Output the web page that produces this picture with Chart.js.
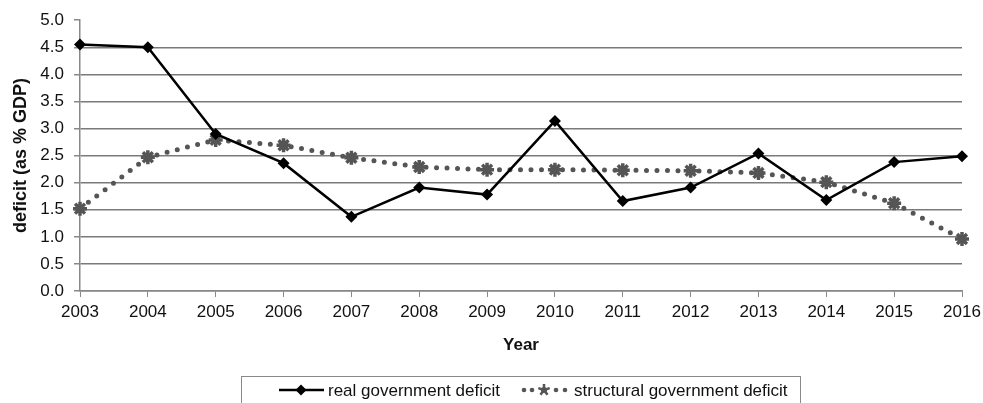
<!DOCTYPE html>
<html>
<head>
<meta charset="utf-8">
<script src="https://cdn.jsdelivr.net/npm/chart.js@4/dist/chart.umd.min.js"></script>
<style>
  html, body { margin: 0; padding: 0; background: #fff; }
  #wrap { width: 983px; height: 403px; }
</style>
</head>
<body>
<div id="wrap"><canvas id="myChart" width="983" height="403"></canvas></div>
<script>
const years = ['2003', '2004', '2005', '2006', '2007', '2008', '2009', '2010', '2011', '2012', '2013', '2014', '2015', '2016'];
const realDeficit = [4.55, 4.50, 2.90, 2.36, 1.37, 1.91, 1.78, 3.14, 1.66, 1.91, 2.54, 1.68, 2.38, 2.49];
const structuralDeficit = [1.52, 2.47, 2.79, 2.69, 2.46, 2.29, 2.24, 2.24, 2.23, 2.22, 2.18, 2.01, 1.62, 0.96];
const seriesNames = ['real government deficit', 'structural government deficit'];

const FONT = "'Liberation Sans', Arial, sans-serif";

// legend with a frame, drawn by hand (Chart.js legend has no line samples)
const boxedLegend = {
    id: 'boxedLegend',
    afterDraw(chart) {
        const ctx = chart.ctx;
        const y = 390;
        ctx.save();
        ctx.strokeStyle = '#8a8a8a';
        ctx.lineWidth = 1;
        ctx.strokeRect(241.5, 376.5, 559, 40);

        // real
        ctx.strokeStyle = '#000';
        ctx.lineWidth = 2.5;
        ctx.beginPath();
        ctx.moveTo(279, y);
        ctx.lineTo(324, y);
        ctx.stroke();
        ctx.fillStyle = '#000';
        ctx.beginPath();
        ctx.moveTo(301, y - 5.5);
        ctx.lineTo(306.5, y);
        ctx.lineTo(301, y + 5.5);
        ctx.lineTo(295.5, y);
        ctx.closePath();
        ctx.fill();

        // structural
        ctx.fillStyle = '#555';
        [524, 532, 556, 565].forEach(x => {
            ctx.beginPath();
            ctx.arc(x, y, 2.3, 0, Math.PI * 2);
            ctx.fill();
        });
        ctx.strokeStyle = '#555';
        ctx.lineWidth = 2.5;
        for (let i = 0; i < 5; i++) {
            const a = i * Math.PI * 2 / 5 - Math.PI / 2;
            ctx.beginPath();
            ctx.moveTo(544, y);
            ctx.lineTo(544 + Math.cos(a) * 6, y + Math.sin(a) * 6);
            ctx.stroke();
        }
        ctx.beginPath();
        ctx.arc(544, y, 3, 0, Math.PI * 2);
        ctx.fill();

        ctx.fillStyle = '#111';
        ctx.font = '17px ' + FONT;
        ctx.textBaseline = 'middle';
        ctx.fillText(seriesNames[0], 328, y + 1);
        ctx.fillText(seriesNames[1], 574, y + 1);
        ctx.restore();
    }
};

const ctx = document.getElementById('myChart').getContext('2d');
new Chart(ctx, {
    type: 'line',
    data: {
        labels: years,
        datasets: [
            {
                label: seriesNames[1],
                data: structuralDeficit,
                borderColor: '#555',
                backgroundColor: '#555',
                borderWidth: 5,
                borderDash: [0, 10.5],
                borderCapStyle: 'round',
                pointStyle: 'star',
                pointRadius: 7,
                pointBorderWidth: 3.5,
                pointBorderColor: '#555',
                tension: 0,
                order: 2,
            },
            {
                label: seriesNames[0],
                data: realDeficit,
                borderColor: '#000',
                backgroundColor: '#000',
                borderWidth: 2.5,
                pointStyle: 'rectRot',
                pointRadius: 6,
                pointBorderWidth: 0,
                pointBackgroundColor: '#000',
                tension: 0,
                order: 1,
            },
        ],
    },
    options: {
        responsive: false,
        animation: false,
        devicePixelRatio: 1,
        layout: {
            padding: { left: 0, right: 21, top: 20, bottom: 47 },
        },
        plugins: {
            legend: { display: false },
            tooltip: { enabled: false },
        },
        scales: {
            x: {
                type: 'category',
                offset: false,
                afterFit: scale => {
                    scale.height = 65;
                    scale.paddingLeft = 0;
                    scale.paddingRight = 0;
                },
                grid: {
                    drawOnChartArea: false,
                    drawTicks: true,
                    tickLength: 6,
                    tickColor: '#888',
                },
                border: { color: '#888', width: 1.5 },
                ticks: {
                    color: '#111',
                    padding: 5,
                    maxRotation: 0,
                    autoSkip: false,
                    font: { family: FONT, size: 17 },
                },
                title: {
                    display: true,
                    text: 'Year',
                    color: '#111',
                    font: { family: FONT, size: 17, weight: 'bold' },
                    padding: { top: 0, bottom: 0 },
                },
            },
            y: {
                min: 0,
                max: 5,
                afterFit: scale => { scale.width = 80; },
                grid: {
                    color: c => (c.tick && c.tick.value === 5 ? 'rgba(0,0,0,0)' : '#7a7a7a'),
                    lineWidth: 1.5,
                    tickLength: 6,
                    tickColor: '#888',
                },
                border: { color: '#888', width: 1.5 },
                ticks: {
                    stepSize: 0.5,
                    color: '#111',
                    padding: 10,
                    font: { family: FONT, size: 17 },
                    callback: v => Number(v).toFixed(1),
                },
                title: {
                    display: true,
                    text: 'deficit (as % GDP)',
                    color: '#111',
                    font: { family: FONT, size: 18, weight: 'bold' },
                    padding: { top: 10, bottom: 0 },
                },
            },
        },
    },
    plugins: [boxedLegend],
});
</script>
</body>
</html>
